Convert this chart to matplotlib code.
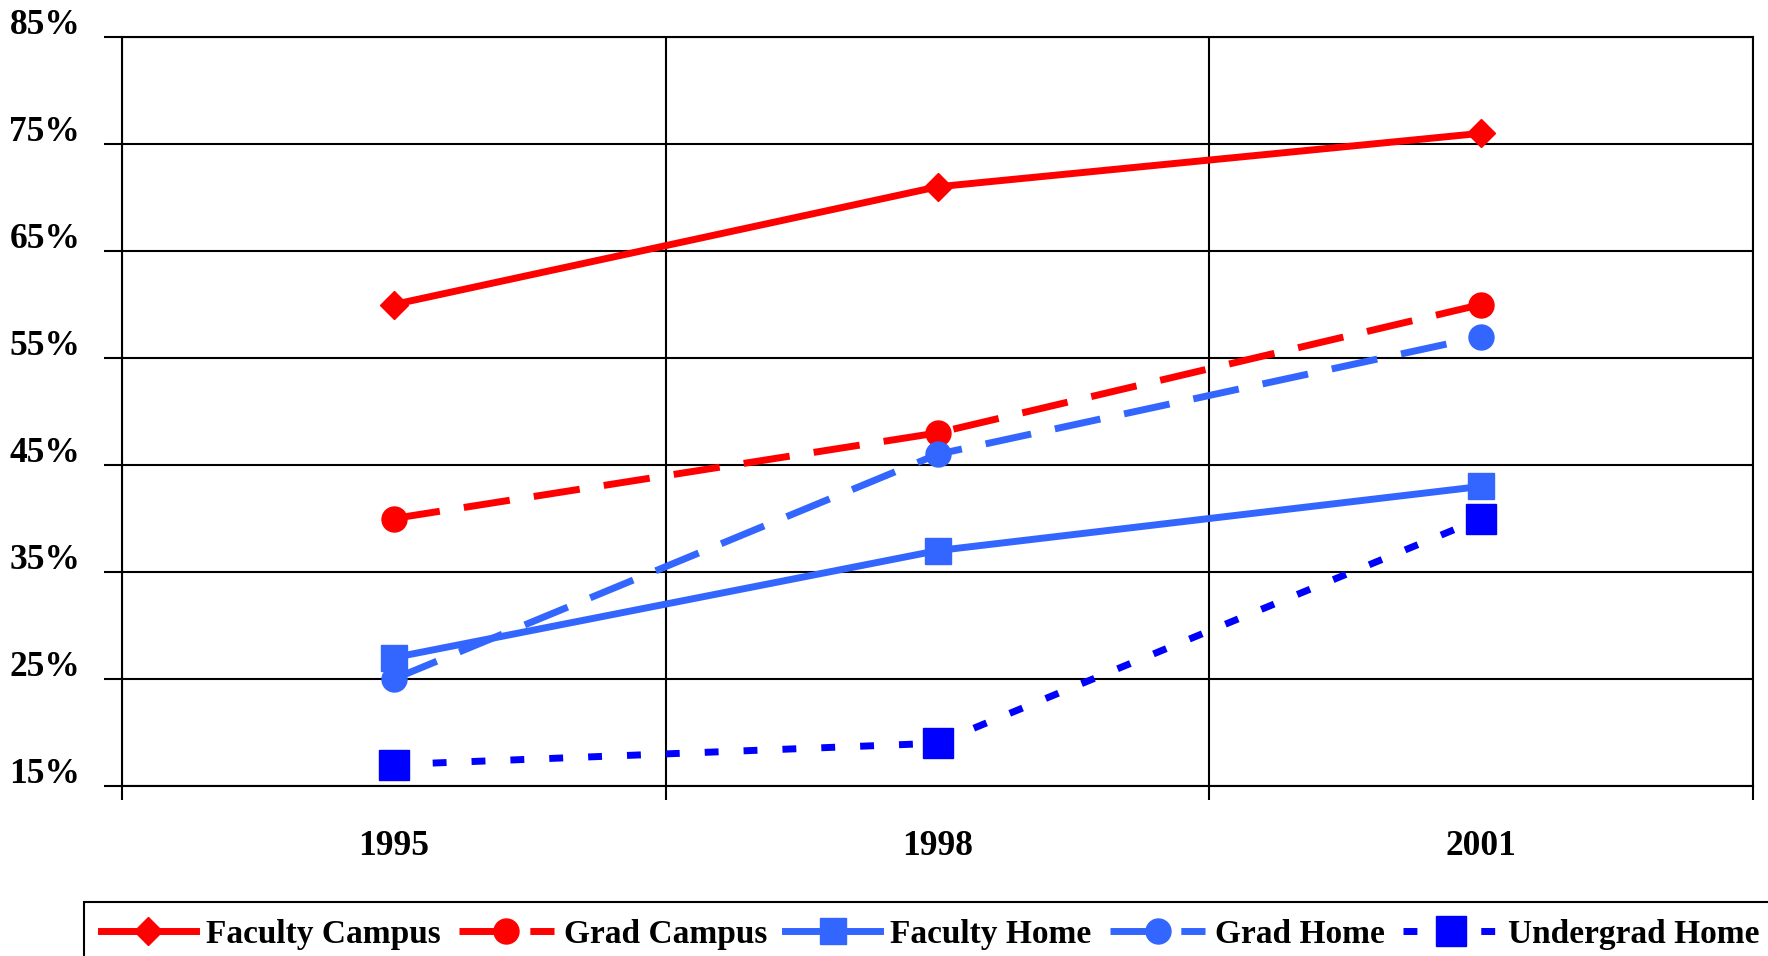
import matplotlib
matplotlib.use("Agg")
import matplotlib.pyplot as plt
import matplotlib.transforms as mtransforms

# ---- data ----
years = ["1995", "1998", "2001"]
faculty_campus = [60, 71, 76]
grad_campus = [40, 48, 60]
faculty_home = [27, 37, 43]
grad_home = [25, 46, 57]
undergrad_home = [17, 19, 40]
series_names = ["Faculty Campus", "Grad Campus", "Faculty Home", "Grad Home", "Undergrad Home"]
y_ticks = [15, 25, 35, 45, 55, 65, 75, 85]
y_tick_labels = ["15%", "25%", "35%", "45%", "55%", "65%", "75%", "85%"]

RED = "#FF0000"
LBLUE = "#3366FF"
BLUE = "#0000FF"

plt.rcParams["font.family"] = ["Liberation Serif", "DejaVu Serif"]
plt.rcParams["font.weight"] = "bold"

fig = plt.figure(figsize=(17.68, 9.56), dpi=100)
W, H = 1768, 956
left, right, top, bottom = 122, 1753, 37, 786
ax = fig.add_axes([left / W, 1 - bottom / H, (right - left) / W, (bottom - top) / H])

x = list(range(len(years)))
lw = 5
ax.plot(x, faculty_campus, color=RED, lw=lw, marker="D", ms=14, label=series_names[0], zorder=3)
ax.plot(x, grad_campus, color=RED, lw=lw, dashes=(6.7, 3.5), marker="o", ms=18, label=series_names[1], zorder=3)
ax.plot(x, faculty_home, color=LBLUE, lw=lw, marker="s", ms=18.5, label=series_names[2], zorder=3)
ax.plot(x, grad_home, color=LBLUE, lw=lw, dashes=(6.7, 3.5), marker="o", ms=18, label=series_names[3], zorder=3)
ax.plot(x, undergrad_home, color=BLUE, lw=lw, dashes=(2, 3.6), marker="s", ms=21, label=series_names[4], zorder=3)

ax.set_xlim(-0.5, len(years) - 0.5)
ax.set_ylim(15, 85)

# y axis
ax.set_yticks(y_ticks)
ax.set_yticklabels(y_tick_labels)
ax.tick_params(axis="y", which="major", length=13, width=1.5, pad=17, labelsize=25.5, color="black")
offset = mtransforms.ScaledTranslation(0, 3 / 100, fig.dpi_scale_trans)
for lab in ax.get_yticklabels():
    lab.set_verticalalignment("baseline")
    lab.set_fontweight("bold")
    lab.set_transform(lab.get_transform() + offset)

# x axis: major ticks at boundaries, labels at centers
ax.set_xticks([i - 0.5 for i in range(len(years) + 1)])
ax.set_xticklabels([""] * (len(years) + 1))
ax.set_xticks(x, minor=True)
ax.set_xticklabels(years, minor=True, fontweight="bold")
ax.tick_params(axis="x", which="major", length=10, width=1.5, color="black")
ax.tick_params(axis="x", which="minor", length=0, pad=32, labelsize=25.5)

ax.grid(True, which="major", color="black", lw=1.5)
ax.set_axisbelow(True)
for s in ax.spines.values():
    s.set_color("black")
    s.set_linewidth(1.5)

leg = fig.legend(
    loc="upper left",
    bbox_to_anchor=(84 / W, 1 - 902 / H),
    bbox_transform=fig.transFigure,
    ncol=5,
    prop={"family": ["Liberation Serif"], "weight": "bold", "size": 24},
    frameon=True,
    fancybox=False,
    shadow=False,
    borderaxespad=0,
    borderpad=0.5,
    handlelength=2.85,
    handletextpad=0.3,
    columnspacing=0.55,
    numpoints=1,
)
leg.get_frame().set_edgecolor("black")
leg.get_frame().set_linewidth(1.5)
leg.get_frame().set_alpha(1)

fig.savefig("out.png", dpi=100)
